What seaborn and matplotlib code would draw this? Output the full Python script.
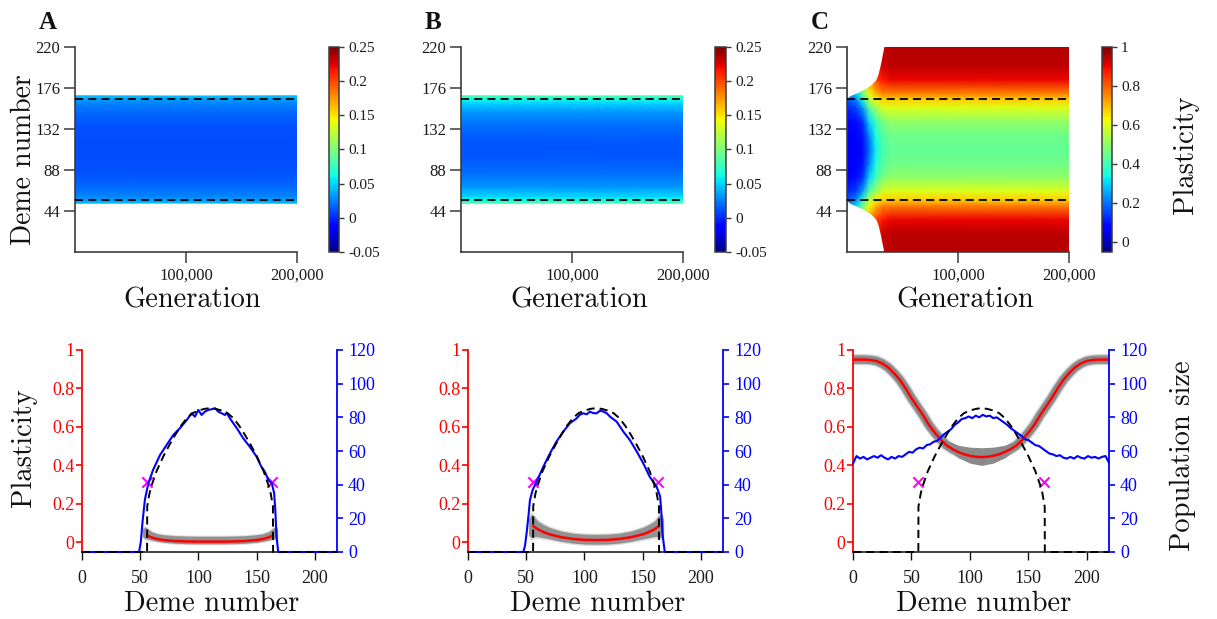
import numpy as np
import matplotlib
matplotlib.use("Agg")
import matplotlib.pyplot as plt
import seaborn as sns

sns.set_style("ticks")
plt.rcParams["font.family"] = ["Liberation Serif", "DejaVu Serif"]
plt.rcParams["axes.linewidth"] = 1.0

LABEL_FAMILY = "cmr10"
W, H = 1217, 619

# ---------------------------------------------------------------- data
generation_ticks = [100000, 200000]
generation_ticklabels = ["100,000", "200,000"]
deme_ticks_top = [44, 88, 132, 176, 220]
range_edges = [56, 164]
critical_demes = [56, 163]
critical_plasticity = [0.315, 0.315]

# top row, panels A and B: plasticity per deme, stationary in time
map_gens_AB = [0, 200000]
map_demes_AB = [52.5, 54, 56, 60, 70, 85, 100, 110, 120, 135, 150, 160, 164, 166, 167.5]
map_plast_A = [0.045, 0.04, 0.034, 0.027, 0.018, 0.012, 0.01, 0.01, 0.01, 0.012, 0.018, 0.027, 0.034, 0.04, 0.045]
map_plast_B = [0.08, 0.072, 0.062, 0.05, 0.032, 0.02, 0.014, 0.013, 0.014, 0.02, 0.032, 0.05, 0.062, 0.072, 0.08]

# top row, panel C: plasticity per deme at successive generations
map_gens_C = [0, 8000, 14000, 20000, 26000, 32000, 40000, 200000]
map_demes_C = [0, 20, 35, 50, 56, 65, 80, 95, 110, 125, 140, 155, 164, 170, 185, 200, 220]
map_plast_C = [
    [0.3, 0.3, 0.28, 0.22, 0.17, 0.12, 0.08, 0.07, 0.07, 0.07, 0.08, 0.12, 0.17, 0.22, 0.28, 0.3, 0.3],
    [0.45, 0.45, 0.42, 0.3, 0.22, 0.15, 0.09, 0.075, 0.07, 0.075, 0.09, 0.15, 0.22, 0.3, 0.42, 0.45, 0.45],
    [0.6, 0.6, 0.57, 0.45, 0.36, 0.24, 0.13, 0.1, 0.09, 0.1, 0.13, 0.24, 0.36, 0.45, 0.57, 0.6, 0.6],
    [0.78, 0.78, 0.72, 0.62, 0.55, 0.43, 0.3, 0.22, 0.19, 0.22, 0.3, 0.43, 0.55, 0.62, 0.72, 0.78, 0.78],
    [0.88, 0.88, 0.83, 0.7, 0.63, 0.52, 0.4, 0.35, 0.33, 0.35, 0.4, 0.52, 0.63, 0.7, 0.83, 0.88, 0.88],
    [0.93, 0.93, 0.88, 0.75, 0.67, 0.59, 0.47, 0.42, 0.41, 0.42, 0.47, 0.59, 0.67, 0.75, 0.88, 0.93, 0.93],
    [0.95, 0.945, 0.9, 0.76, 0.68, 0.6, 0.5, 0.455, 0.443, 0.455, 0.5, 0.6, 0.68, 0.76, 0.9, 0.945, 0.95],
    [0.95, 0.945, 0.9, 0.76, 0.68, 0.6, 0.5, 0.455, 0.443, 0.455, 0.5, 0.6, 0.68, 0.76, 0.9, 0.945, 0.95],
]
# occupied part of the habitat while the range expands (panel C)
occupied_gens_C = [0, 3000, 9000, 16000, 22000, 26000, 28000, 30000, 32000, 33500]
occupied_upper_C = [165, 168, 171, 175, 180, 185, 191, 201, 213, 222]
occupied_lower_C = [55, 52, 49, 45, 40, 35, 29, 19, 7, -2]

# bottom row: carrying capacity (same in all panels)
K_demes = [0, 55.9, 56, 58, 60, 64, 70, 75, 80, 85, 90, 95, 100, 105, 110, 115, 120,
           125, 130, 135, 140, 145, 150, 156, 160, 162, 164, 164.1, 219]
K_values = [0, 0, 27, 35, 40, 48, 57, 63.5, 69.5, 75, 79.5, 82.5, 84, 85, 85.5, 85, 84,
            82.5, 79.5, 75, 69.5, 63.5, 57, 48, 40, 35, 27, 0, 0]

# bottom row, population size
pop_demes_A = [0, 49, 50.5, 52, 54, 55.5, 57, 61, 67, 72.7, 78.4, 84, 90, 94.1, 97, 99.9, 102.7,
               105.6, 108.4, 111.3, 114.2, 117, 119.9, 122.8, 124.2, 127, 133, 138.5, 144, 150,
               154, 157, 160, 163, 165, 166, 167, 168.5, 219]
pop_A = [0, 0, 6, 18, 31, 36, 40.8, 48.7, 57.6, 63.6, 69.5, 73.5, 78.4, 82.4, 80.4, 84.4, 81.4,
         83.4, 84.4, 84.8, 85.4, 83.4, 82.4, 81.4, 82.8, 79.4, 73.5, 67.5, 62.6, 56.6,
         50.7, 47.7, 42.8, 40.8, 35, 25, 10, 0, 0]
pop_demes_B = [0, 47.5, 49, 50.3, 52, 53.2, 55.5, 58.9, 64.7, 70.4, 76, 81.8, 87.5, 93.3, 96, 99,
               102, 104.7, 107.5, 110.5, 113.5, 116.2, 119, 122, 127.7, 133.4, 139, 145, 150.5,
               156, 162, 165, 166, 167, 169, 219]
pop_B = [0, 0, 4, 11, 22, 30.8, 36.8, 41.8, 50.7, 58.6, 65.6, 71.5, 76.5, 79.4, 81.5, 82.4,
         81.8, 83.4, 82.5, 82.4, 84, 83.4, 82.5, 80.4, 77.4, 71.5, 66.5, 59.6, 52.7,
         44.8, 38.8, 33, 24, 11, 0, 0]
pop_demes_C = list(range(0, 220, 3))
pop_C = [52.5, 57, 55.5, 56.5, 55, 56, 57, 56, 57.5, 56, 55, 56.5, 55.5, 57, 56.5, 58,
         59.5, 59, 61, 62, 61.5, 63.5, 64, 65.5, 66, 68, 70, 71.5, 73, 75.5, 77, 79,
         79.5, 80.5, 79.5, 81, 80, 81.5, 80.5, 81, 79.5, 80, 78.5, 77, 75.5, 73.5, 72,
         70.5, 69, 67, 66.5, 65, 63.5, 63, 61.5, 60, 58.5, 58, 57, 57.5, 56, 55.5, 56.5,
         55.5, 57, 56, 55.5, 57, 56, 56.5, 55.5, 56.5, 57, 53]

# bottom row, mean plasticity
mean_demes_AB = [56, 60, 65, 70, 80, 90, 100, 110, 120, 130, 140, 150, 155, 160, 164]
mean_plast_A = [0.036, 0.025, 0.017, 0.012, 0.007, 0.005, 0.004, 0.004, 0.004, 0.005, 0.007, 0.012, 0.017, 0.025, 0.036]
mean_plast_B = [0.085, 0.068, 0.053, 0.042, 0.027, 0.018, 0.013, 0.012, 0.013, 0.018, 0.027, 0.042, 0.053, 0.068, 0.085]
mean_demes_C = [0, 5, 10, 15, 20, 25, 30, 35, 40, 45, 50, 55, 60, 65, 70, 75, 80, 85, 90, 95, 100,
                105, 110, 115, 120, 125, 130, 135, 140, 145, 150, 155, 160, 165, 170, 175, 180,
                185, 190, 195, 200, 205, 210, 215, 219]
mean_plast_C = [0.95, 0.95, 0.95, 0.948, 0.943, 0.93, 0.91, 0.88, 0.845, 0.8, 0.75, 0.705, 0.66,
                0.61, 0.57, 0.535, 0.505, 0.485, 0.47, 0.458, 0.45, 0.445, 0.443, 0.445, 0.45,
                0.458, 0.47, 0.485, 0.505, 0.535, 0.57, 0.61, 0.66, 0.705, 0.75, 0.8, 0.845,
                0.88, 0.91, 0.93, 0.943, 0.948, 0.95, 0.95, 0.95]

# bottom row, spread of individual plasticities (centre and half-width)
cloud_demes_AB = [52, 54, 56, 60, 65, 70, 80, 90, 100, 110, 120, 130, 140, 150, 155, 160, 164, 166, 168]
cloud_mid_A = [0.05, 0.05, 0.045, 0.033, 0.025, 0.02, 0.015, 0.013, 0.012, 0.012, 0.012, 0.013, 0.015, 0.02, 0.025, 0.033, 0.045, 0.05, 0.05]
cloud_half_A = [0.02, 0.03, 0.028, 0.022, 0.02, 0.02, 0.02, 0.02, 0.02, 0.02, 0.02, 0.02, 0.02, 0.02, 0.02, 0.022, 0.028, 0.03, 0.02]
cloud_mid_B = [0.08, 0.085, 0.085, 0.07, 0.058, 0.048, 0.032, 0.022, 0.017, 0.016, 0.017, 0.022, 0.032, 0.048, 0.058, 0.07, 0.085, 0.085, 0.08]
cloud_half_B = [0.04, 0.06, 0.055, 0.04, 0.034, 0.03, 0.027, 0.026, 0.026, 0.026, 0.026, 0.026, 0.027, 0.03, 0.034, 0.04, 0.055, 0.06, 0.04]
trough_demes_C = [80, 90, 100, 110, 120, 130, 140]
trough_low_C = [0.49, 0.44, 0.412, 0.4, 0.412, 0.44, 0.49]
trough_high_C = [0.53, 0.505, 0.495, 0.492, 0.495, 0.505, 0.53]

plast_ticks = [0, 0.2, 0.4, 0.6, 0.8, 1]
plast_ticklabels = ["0", "0.2", "0.4", "0.6", "0.8", "1"]
pop_ticks = [0, 20, 40, 60, 80, 100, 120]
deme_ticks_bottom = [0, 50, 100, 150, 200]

cbar_ticks_AB = [-0.05, 0, 0.05, 0.1, 0.15, 0.2, 0.25]
cbar_labels_AB = ["-0.05", "0", "0.05", "0.1", "0.15", "0.2", "0.25"]
cbar_ticks_C = [0, 0.2, 0.4, 0.6, 0.8, 1]
cbar_labels_C = ["0", "0.2", "0.4", "0.6", "0.8", "1"]

# ---------------------------------------------------------------- helpers
DARK = "#3c3c3c"
GREY = "#8a8a8a"


def rect(l, t, r, b):
    return [l / W, 1 - b / H, (r - l) / W, (b - t) / H]


def label(x, y, text, rotation=0, size=20.5, **kw):
    fig.text(x / W, 1 - y / H, text, rotation=rotation, rotation_mode="anchor",
             ha="center", va="baseline", family=LABEL_FAMILY, fontsize=size,
             color="#111111", **kw)


def draw_top(box, cbox, gens, demes, values, vmin, vmax, cticks, clabels, occupied=None):
    ax = fig.add_axes(rect(*box))
    X, Y = np.meshgrid(gens, demes)
    mesh = ax.pcolormesh(X, Y, np.asarray(values, dtype=float).T, shading="gouraud",
                         cmap="jet", vmin=vmin, vmax=vmax, zorder=1)
    if occupied is not None:
        g, up, lo = occupied
        ax.fill_between(g, up, 230, color="white", lw=0, zorder=1.5)
        ax.fill_between(g, -10, lo, color="white", lw=0, zorder=1.5)
    for e in range_edges:
        sns.lineplot(x=[0, 200000], y=[e, e], ax=ax, color="black", linewidth=1.3,
                     linestyle=(0, (4.5, 2.8)), estimator=None, zorder=3)
    ax.set_xlim(0, 200000)
    ax.set_ylim(0, 220)
    ax.set_xticks(generation_ticks)
    ax.set_xticklabels(generation_ticklabels)
    ax.set_yticks(deme_ticks_top)
    ax.set_yticklabels([str(t) for t in deme_ticks_top])
    sns.despine(ax=ax)
    for s in ("left", "bottom"):
        ax.spines[s].set_color(DARK)
        ax.spines[s].set_linewidth(1.2)
    ax.tick_params(axis="both", direction="out", length=8, width=1.1, color=DARK,
                   labelsize=12, labelcolor="#1a1a1a")
    ax.tick_params(axis="y", pad=2.5)
    ax.tick_params(axis="x", pad=3.5)
    ax.set_xlabel("")
    ax.set_ylabel("")

    cax = fig.add_axes(rect(*cbox))
    cb = fig.colorbar(mesh, cax=cax)
    cb.set_ticks(cticks)
    cb.set_ticklabels(clabels)
    cb.outline.set_edgecolor(DARK)
    cb.outline.set_linewidth(1.1)
    cax.tick_params(direction="out", length=3.5, width=1.0, color=DARK, pad=3,
                    labelsize=11, labelcolor="#1a1a1a")
    return ax


def draw_bottom(box, mean_demes, mean_vals, pop_demes, pop_vals,
                cloud=None, trough=None):
    ax = fig.add_axes(rect(*box))
    ax2 = ax.twinx()

    # spread of individual plasticities
    if cloud is not None:
        cd, mid, half = (np.asarray(a, dtype=float) for a in cloud)
        ax.fill_between(cd, mid - half * 1.25, mid + half * 1.25, color="#c8c8c8",
                        alpha=0.6, lw=0, zorder=1)
        ax.fill_between(cd, mid - half, mid + half, color=GREY, alpha=0.9, lw=0, zorder=1.2)
    else:
        sns.lineplot(x=mean_demes, y=mean_vals, ax=ax, color="#c4c4c4", linewidth=8,
                     estimator=None, solid_capstyle="butt", alpha=0.8, zorder=1)
        sns.lineplot(x=mean_demes, y=mean_vals, ax=ax, color=GREY, linewidth=6,
                     estimator=None, solid_capstyle="butt", zorder=1.2)
    if trough is not None:
        td, tl, th = trough
        ax.fill_between(td, tl, th, color=GREY, lw=0, zorder=1.2)

    sns.lineplot(x=mean_demes, y=mean_vals, ax=ax, color="#ff0000", linewidth=1.8,
                 estimator=None, zorder=2)
    sns.scatterplot(x=critical_demes, y=critical_plasticity, ax=ax, marker="x",
                    color="#ff00ff", s=55, linewidth=1.5, zorder=4)

    sns.lineplot(x=pop_demes, y=pop_vals, ax=ax2, color="#0000ff", linewidth=1.5,
                 estimator=None, clip_on=False, zorder=2)
    sns.lineplot(x=K_demes, y=K_values, ax=ax2, color="black", linewidth=1.4,
                 linestyle=(0, (4.2, 2.6)), estimator=None, clip_on=False, zorder=3)

    ax.set_xlim(0, 219)
    ax.set_ylim(-0.05, 1)
    ax2.set_ylim(0, 120)
    ax.set_xticks(deme_ticks_bottom)
    ax.set_xticklabels([str(t) for t in deme_ticks_bottom])
    ax.set_yticks(plast_ticks)
    ax.set_yticklabels(plast_ticklabels)
    ax2.set_yticks(pop_ticks)
    ax2.set_yticklabels([str(t) for t in pop_ticks])
    for a in (ax, ax2):
        a.set_xlabel("")
        a.set_ylabel("")
        a.spines["top"].set_visible(False)
    ax.spines["right"].set_visible(False)
    ax2.spines["left"].set_visible(False)
    ax2.spines["bottom"].set_visible(False)
    ax.spines["left"].set_color("#ff0000")
    ax.spines["left"].set_linewidth(1.3)
    ax.spines["bottom"].set_color("#111111")
    ax.spines["bottom"].set_linewidth(1.1)
    ax2.spines["right"].set_color("#0000ff")
    ax2.spines["right"].set_linewidth(1.3)
    ax.tick_params(axis="x", direction="out", length=6, width=1.0, color="#111111",
                   labelsize=13, labelcolor="#1a1a1a", pad=7)
    ax.tick_params(axis="y", direction="out", length=4.5, width=1.2, colors="#ff0000",
                   labelsize=13, pad=1)
    ax2.tick_params(axis="y", direction="out", length=4.5, width=1.2, colors="#0000ff",
                    labelsize=13, pad=3.5)
    return ax, ax2


# ---------------------------------------------------------------- figure
fig = plt.figure(figsize=(W / 100, H / 100), dpi=100)

draw_top((75, 47, 297, 252), (329, 47, 339, 252), map_gens_AB, map_demes_AB,
         [map_plast_A, map_plast_A], -0.05, 0.25, cbar_ticks_AB, cbar_labels_AB)
draw_top((461, 47, 683, 252), (715, 47, 726, 252), map_gens_AB, map_demes_AB,
         [map_plast_B, map_plast_B], -0.05, 0.25, cbar_ticks_AB, cbar_labels_AB)
draw_top((847, 47, 1069, 252), (1102, 47, 1112, 252), map_gens_C, map_demes_C,
         map_plast_C, -0.05, 1.0, cbar_ticks_C, cbar_labels_C,
         occupied=(occupied_gens_C, occupied_upper_C, occupied_lower_C))

draw_bottom((82, 350, 337, 552), mean_demes_AB, mean_plast_A, pop_demes_A, pop_A,
            cloud=(cloud_demes_AB, cloud_mid_A, cloud_half_A))
draw_bottom((468, 350, 723, 552), mean_demes_AB, mean_plast_B, pop_demes_B, pop_B,
            cloud=(cloud_demes_AB, cloud_mid_B, cloud_half_B))
draw_bottom((853, 350, 1109, 552), mean_demes_C, mean_plast_C, pop_demes_C, pop_C,
            trough=(trough_demes_C, trough_low_C, trough_high_C))

# axis titles
for cx in (192, 579, 965):
    label(cx, 307, "Generation")
for cx in (211.5, 597.5, 983.5):
    label(cx, 611, "Deme number")
label(31, 160, "Deme number", rotation=90, size=20)
label(30.5, 448, "Plasticity", rotation=90)
label(1192.5, 155, "Plasticity", rotation=90)
label(1189.5, 456, "Population size", rotation=90)

# panel letters
for x, letter in ((39, "A"), (425, "B"), (811, "C")):
    fig.text(x / W, 1 - 29 / H, letter, fontsize=18, fontweight="bold",
             ha="left", va="baseline", color="#111111")

fig.savefig("out.png", dpi=100)
